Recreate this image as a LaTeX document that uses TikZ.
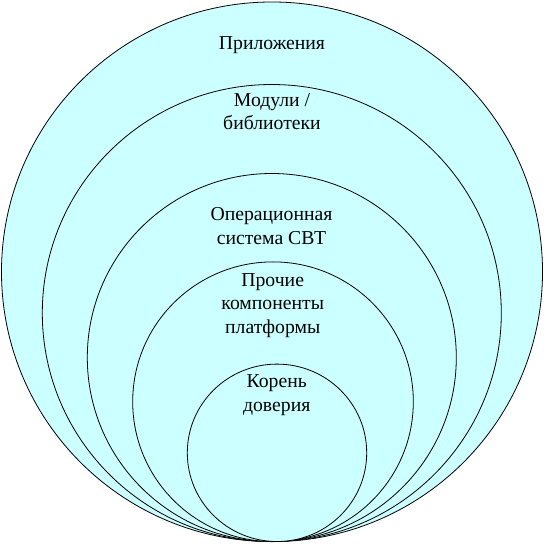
\documentclass[tikz,border=0pt]{standalone}
\usepackage{fontspec}
\setmainfont{Liberation Serif}
\definecolor{layerfill}{HTML}{CCFFFF}
\begin{document}
\begin{tikzpicture}[x=1bp,y=-1bp,
  layer/.style={draw=black,fill=layerfill,line width=0.8bp},
  lbl/.style={align=center,inner sep=0pt,anchor=base,
    font={\fontsize{19.7bp}{23.5bp}\selectfont}}]
\useasboundingbox (0,0) rectangle (544,544);
\path[layer] (272,271.8) ellipse [x radius=270.5bp, y radius=269.8bp];
\path[layer] (271.8,313) ellipse [x radius=229.5bp, y radius=228.5bp];
\path[layer] (271.8,357.5) ellipse [x radius=184.5bp, y radius=184bp];
\path[layer] (273,401.7) ellipse [x radius=140.3bp, y radius=139.8bp];
\path[layer] (277,452.8) ellipse [x radius=89.7bp, y radius=88.7bp];
\node[lbl] (apps) at (272,50) {Приложения};
\node[lbl] (mods) at (272,130) {Модули /\\библиотеки};
\node[lbl] (os) at (271.5,244) {Операционная\\система СВТ};
\node[lbl] (plat) at (272.7,333.3) {Прочие\\компоненты\\платформы};
\node[lbl] (root) at (276.7,411) {Корень\\доверия};
\end{tikzpicture}
\end{document}
